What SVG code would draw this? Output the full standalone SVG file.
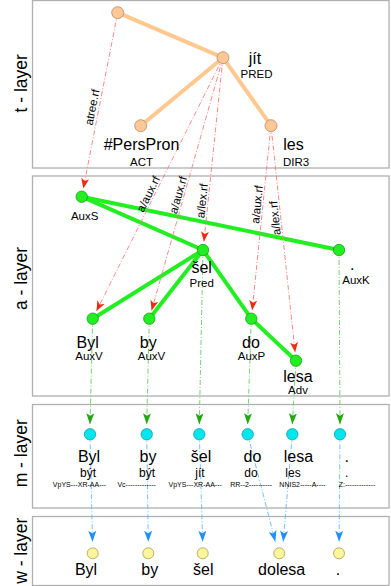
<svg xmlns="http://www.w3.org/2000/svg" width="391" height="586" viewBox="0 0 391 586">
<style>
text{font-family:"Liberation Sans",Arial,sans-serif;fill:#000}
.layer{fill:#fff;stroke:#b0b0b0;stroke-width:1.3}
.ll{font-size:17.5px;text-anchor:middle}
.w{font-size:16px;text-anchor:middle}
.f{font-size:11.5px;text-anchor:middle}
.lm{font-size:12px;text-anchor:middle}
.tg{font-size:7px;text-anchor:middle}
.rl{font-size:11.5px;text-anchor:middle}
.tn{fill:#fdc896;stroke:#b48a64;stroke-width:0.8}
.an{fill:#22ee22;stroke:#16a016;stroke-width:0.8}
.mn{fill:#00e6ee;stroke:#1a9aa2;stroke-width:0.8}
.wn{fill:#fbf59c;stroke:#a89c50;stroke-width:0.8}
.te{stroke:#ffc88e;stroke-width:4;fill:none}
.ae{stroke:#22ee22;stroke-width:4;fill:none}
.rd{stroke:#ff7a7a;stroke-width:0.9;fill:none;stroke-dasharray:5,2,1,2;marker-end:url(#ar)}
.gd{stroke:#66cc66;stroke-width:0.9;fill:none;stroke-dasharray:5,2,1,2;marker-end:url(#ag)}
.bd{stroke:#66b8ff;stroke-width:0.9;fill:none;stroke-dasharray:5,2,1,2;marker-end:url(#ab)}
</style>
<defs>
<marker id="ar" markerUnits="userSpaceOnUse" markerWidth="10" markerHeight="8" refX="10" refY="4" orient="auto"><path d="M0,0 L10,4 L0,8 L2.5,4 z" fill="#ee2a10"/></marker>
<marker id="ag" markerUnits="userSpaceOnUse" markerWidth="11" markerHeight="8" refX="11" refY="4" orient="auto"><path d="M0,0 L11,4 L0,8 L2.5,4 z" fill="#22a80e"/></marker>
<marker id="ab" markerUnits="userSpaceOnUse" markerWidth="11" markerHeight="8" refX="11" refY="4" orient="auto"><path d="M0,0 L11,4 L0,8 L2.5,4 z" fill="#1e90ff"/></marker>
</defs>

<g id="layers">
<rect class="layer" x="32.5" y="0.5" width="356.5" height="167.5"/>
<rect class="layer" x="32.5" y="176" width="356.5" height="220"/>
<rect class="layer" x="32.5" y="404.5" width="356.5" height="103.5"/>
<rect class="layer" x="32.5" y="516.5" width="356.5" height="69"/>
<text class="ll" transform="translate(26.5,83.3) rotate(-90)">t - layer</text>
<text class="ll" transform="translate(26.5,278.5) rotate(-90)">a - layer</text>
<text class="ll" transform="translate(26.5,453.3) rotate(-90)">m - layer</text>
<text class="ll" transform="translate(26.5,550.8) rotate(-90)">w - layer</text>
</g>

<g id="connectors">
<line class="te" x1="117.7" y1="12.7" x2="223" y2="57.7"/>
<line class="te" x1="223" y1="57.7" x2="140.7" y2="125.7"/>
<line class="te" x1="223" y1="57.7" x2="271" y2="125.7"/>
<line class="ae" x1="81.7" y1="196.7" x2="203" y2="250"/>
<line class="ae" x1="81.7" y1="196.7" x2="339" y2="250"/>
<line class="ae" x1="203" y1="250" x2="92.7" y2="318.7"/>
<line class="ae" x1="203" y1="250" x2="149.3" y2="318.7"/>
<line class="ae" x1="203" y1="250" x2="251.3" y2="318.7"/>
<line class="ae" x1="251.3" y1="318.7" x2="296" y2="360.7"/>

<line class="rd" x1="117.7" y1="12.7" x2="83.3" y2="188.4"/>
<line class="rd" x1="223" y1="57.7" x2="96.5" y2="311.1"/>
<line class="rd" x1="223" y1="57.7" x2="151.6" y2="310.5"/>
<line class="rd" x1="223" y1="57.7" x2="203.9" y2="241.5"/>
<line class="rd" x1="271" y1="125.7" x2="252.2" y2="310.2"/>
<line class="rd" x1="271" y1="125.7" x2="295.1" y2="352.2"/>

<line class="gd" x1="92.7" y1="318.7" x2="90" y2="424.3"/>
<line class="gd" x1="149.3" y1="318.7" x2="146.7" y2="424.3"/>
<line class="gd" x1="203" y1="250" x2="199.3" y2="424.3"/>
<line class="gd" x1="251.3" y1="318.7" x2="247.7" y2="424.3"/>
<line class="gd" x1="296" y1="360.7" x2="292.3" y2="424.3"/>
<line class="gd" x1="339" y1="250" x2="340" y2="424.3"/>

<line class="bd" x1="90" y1="434.3" x2="92.5" y2="541.8"/>
<line class="bd" x1="146.7" y1="434.3" x2="148.3" y2="541.8"/>
<line class="bd" x1="199.3" y1="434.3" x2="202.7" y2="541.8"/>
<line class="bd" x1="247.7" y1="434.3" x2="275.3" y2="541.7"/>
<line class="bd" x1="292.3" y1="434.3" x2="283.2" y2="541.7"/>
<line class="bd" x1="340" y1="434.3" x2="339.1" y2="541.8"/>

<text class="rl" transform="translate(97.5,108.3) rotate(-78.7)" y="-1.5">atree.rf</text>
<text class="rl" transform="translate(153.2,196.5) rotate(-63.5)" y="-1.5">a/aux.rf</text>
<text class="rl" transform="translate(183.4,196.5) rotate(-74.2)" y="-1.5">a/aux.rf</text>
<text class="rl" transform="translate(207.6,201.5) rotate(-84.1)" y="-1.5">a/lex.rf</text>
<text class="rl" transform="translate(262.5,205) rotate(-84.2)" y="-1.5">a/aux.rf</text>
<text class="rl" transform="translate(280.4,217.5) rotate(-96.1)" y="-1.5">a/lex.rf</text>
</g>

<g id="t-root"><circle class="tn" cx="117.7" cy="12.7" r="6"/></g>
<g id="t-jit"><circle class="tn" cx="223" cy="57.7" r="6"/><text class="w" x="255" y="63.5">jít</text><text class="f" x="256.5" y="77.5">PRED</text></g>
<g id="t-perspron"><circle class="tn" cx="140.7" cy="125.7" r="6"/><text class="w" x="141.5" y="149.5">#PersPron</text><text class="f" x="141.5" y="165.5">ACT</text></g>
<g id="t-les"><circle class="tn" cx="271" cy="125.7" r="6"/><text class="w" x="293.5" y="149.5">les</text><text class="f" x="296" y="165.5">DIR3</text></g>

<g id="a-root"><circle class="an" cx="81.7" cy="196.7" r="5.7"/><text class="f" x="84.7" y="220">AuxS</text></g>
<g id="a-sel"><circle class="an" cx="203" cy="250" r="5.7"/><text class="w" x="201.7" y="273">šel</text><text class="f" x="201.7" y="286.5">Pred</text></g>
<g id="a-dot"><circle class="an" cx="339" cy="250" r="5.7"/><text class="w" x="352.3" y="269.5">.</text><text class="f" x="356" y="283.5">AuxK</text></g>
<g id="a-byl"><circle class="an" cx="92.7" cy="318.7" r="5.7"/><text class="w" x="87.7" y="347.7">Byl</text><text class="f" x="89" y="360">AuxV</text></g>
<g id="a-by"><circle class="an" cx="149.3" cy="318.7" r="5.7"/><text class="w" x="148.3" y="347.7">by</text><text class="f" x="151.5" y="360">AuxV</text></g>
<g id="a-do"><circle class="an" cx="251.3" cy="318.7" r="5.7"/><text class="w" x="251" y="347.7">do</text><text class="f" x="251.5" y="360">AuxP</text></g>
<g id="a-lesa"><circle class="an" cx="296" cy="360.7" r="5.7"/><text class="w" x="298" y="381.7">lesa</text><text class="f" x="298" y="394">Adv</text></g>

<g id="m-byl"><circle class="mn" cx="90" cy="434.3" r="5.7"/><text class="w" x="89" y="461.7">Byl</text><text class="lm" x="88" y="476.7">být</text><text class="tg" x="79.5" y="486.7">VpYS---XR-AA---</text></g>
<g id="m-by"><circle class="mn" cx="146.7" cy="434.3" r="5.7"/><text class="w" x="148" y="461.7">by</text><text class="lm" x="147" y="476.7">být</text><text class="tg" x="136.7" y="486.7">Vc-------------</text></g>
<g id="m-sel"><circle class="mn" cx="199.3" cy="434.3" r="5.7"/><text class="w" x="201" y="461.7">šel</text><text class="lm" x="200" y="476.7">jít</text><text class="tg" x="195.2" y="486.7">VpYS---XR-AA---</text></g>
<g id="m-do"><circle class="mn" cx="247.7" cy="434.3" r="5.7"/><text class="w" x="252.5" y="461.7">do</text><text class="lm" x="251" y="476.7">do</text><text class="tg" x="251.2" y="486.7">RR--2----------</text></g>
<g id="m-lesa"><circle class="mn" cx="292.3" cy="434.3" r="5.7"/><text class="w" x="298.5" y="461.7">lesa</text><text class="lm" x="293" y="476.7">les</text><text class="tg" x="302.5" y="486.7">NNIS2-----A----</text></g>
<g id="m-dot"><circle class="mn" cx="340" cy="434.3" r="5.7"/><text class="w" x="346.7" y="461.7">.</text><text class="lm" x="346.7" y="476.7">.</text><text class="tg" x="357" y="486.7">Z:-------------</text></g>

<g id="w-byl"><circle class="wn" cx="92.7" cy="553.3" r="5.5"/><text class="w" x="86" y="575">Byl</text></g>
<g id="w-by"><circle class="wn" cx="148.3" cy="553.3" r="5.5"/><text class="w" x="149.7" y="575">by</text></g>
<g id="w-sel"><circle class="wn" cx="202.7" cy="553.3" r="5.5"/><text class="w" x="203.3" y="575">šel</text></g>
<g id="w-dolesa"><circle class="wn" cx="279.3" cy="553.3" r="5.5"/><text class="w" x="281.7" y="575">dolesa</text></g>
<g id="w-dot"><circle class="wn" cx="339" cy="553.3" r="5.5"/><text class="w" x="338" y="575">.</text></g>
</svg>
